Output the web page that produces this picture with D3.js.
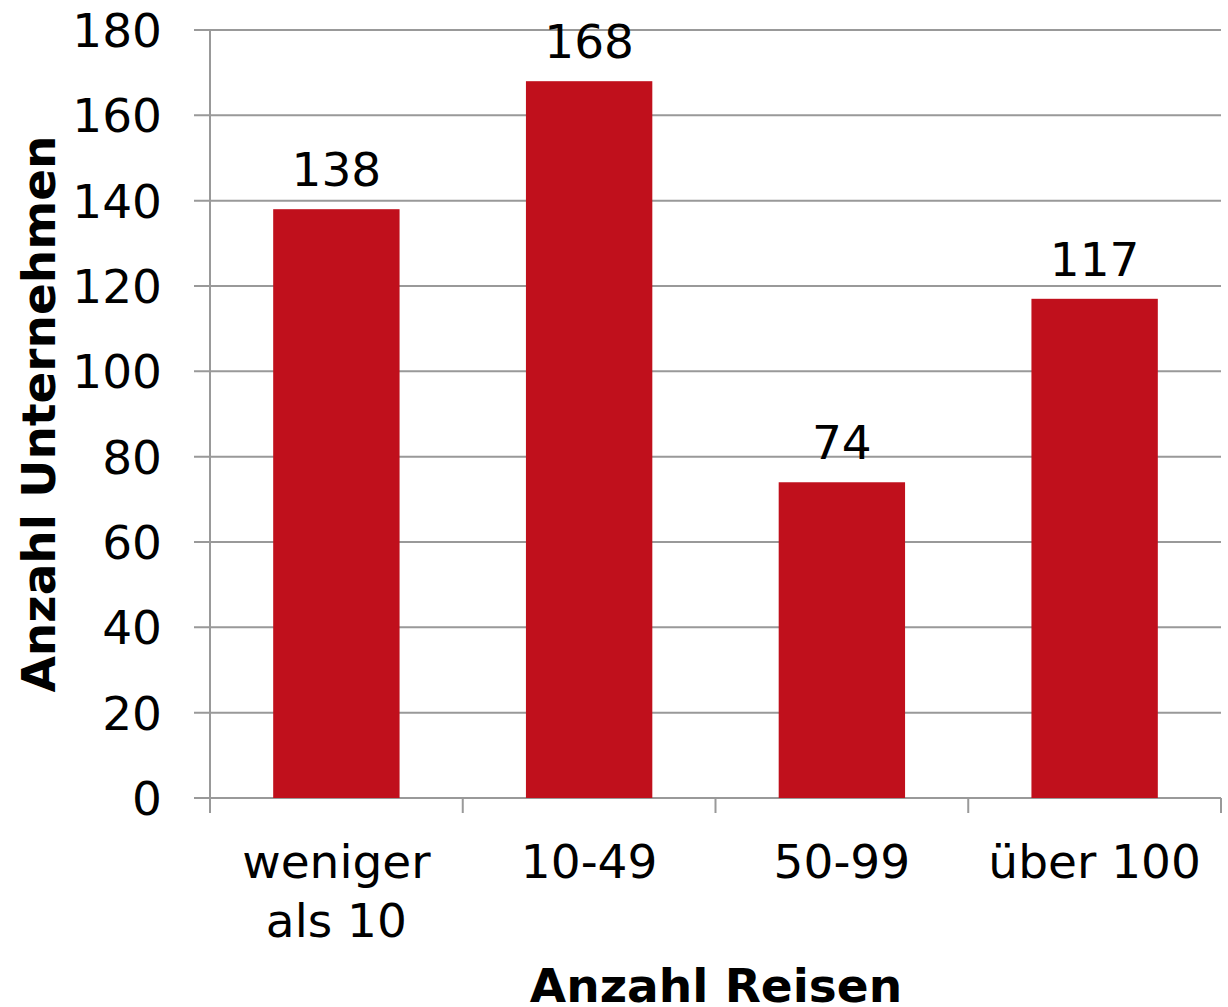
<!DOCTYPE html>
<html><head><meta charset="utf-8">
<script src="https://cdn.jsdelivr.net/npm/d3@7"></script>
<style>body{margin:0;background:#fff}svg{display:block}</style>
</head><body>
<script>
const categories = [["weniger","als 10"],["10-49"],["50-99"],["über 100"]];
const values = [138,168,74,117];
const yTicks = [0,20,40,60,80,100,120,140,160,180];
const yTitle = "Anzahl Unternehmen";
const xTitle = "Anzahl Reisen";

const W=1228,H=1007;
const L=210,R=1221,T=30,B=798;
const font="'DejaVu Sans', Verdana, sans-serif";
const fs=47;
const svg=d3.select("body").append("svg").attr("width",W).attr("height",H);
const x=d3.scaleBand().domain(d3.range(categories.length)).range([L,R]).paddingInner(0.5).paddingOuter(0.25);
const y=d3.scaleLinear().domain([0,180]).range([B,T]);
const grey="#999";

svg.append("g").selectAll("line").data(yTicks).join("line")
  .attr("x1",194).attr("x2",R).attr("y1",d=>y(d)).attr("y2",d=>y(d))
  .attr("stroke",grey).attr("stroke-width",2);
svg.append("line").attr("x1",L).attr("x2",L).attr("y1",T).attr("y2",B).attr("stroke",grey).attr("stroke-width",2);
const step=(R-L)/categories.length;
svg.append("g").selectAll("line").data(d3.range(categories.length+1)).join("line")
  .attr("x1",i=>L+i*step).attr("x2",i=>L+i*step).attr("y1",B).attr("y2",813)
  .attr("stroke",grey).attr("stroke-width",2);
svg.append("g").selectAll("text").data(yTicks).join("text")
  .attr("x",162).attr("y",d=>y(d)+17).attr("text-anchor","end")
  .attr("font-family",font).attr("font-size",fs).text(d=>d);
svg.append("g").selectAll("rect").data(values).join("rect")
  .attr("x",(d,i)=>x(i)).attr("width",x.bandwidth())
  .attr("y",d=>y(d)).attr("height",d=>B-y(d)).attr("fill","#c0101c");
svg.append("g").selectAll("text").data(values).join("text")
  .attr("x",(d,i)=>x(i)+x.bandwidth()/2).attr("y",d=>y(d)-23).attr("text-anchor","middle")
  .attr("font-family",font).attr("font-size",fs).text(d=>d);
const cl=svg.append("g").selectAll("text").data(categories).join("text")
  .attr("text-anchor","middle").attr("font-family",font).attr("font-size",fs);
cl.each(function(lines,i){
  d3.select(this).selectAll("tspan").data(lines).join("tspan")
    .attr("x",x(i)+x.bandwidth()/2).attr("y",(d,j)=>878+j*59).text(d=>d);
});
svg.append("text").attr("transform",`translate(55,${(T+B)/2}) rotate(-90)`)
  .attr("text-anchor","middle").attr("font-family",font).attr("font-size",fs).attr("font-weight","bold").text(yTitle);
svg.append("text").attr("x",716).attr("y",1002).attr("text-anchor","middle")
  .attr("font-family",font).attr("font-size",fs).attr("font-weight","bold").text(xTitle);
</script>
</body></html>
